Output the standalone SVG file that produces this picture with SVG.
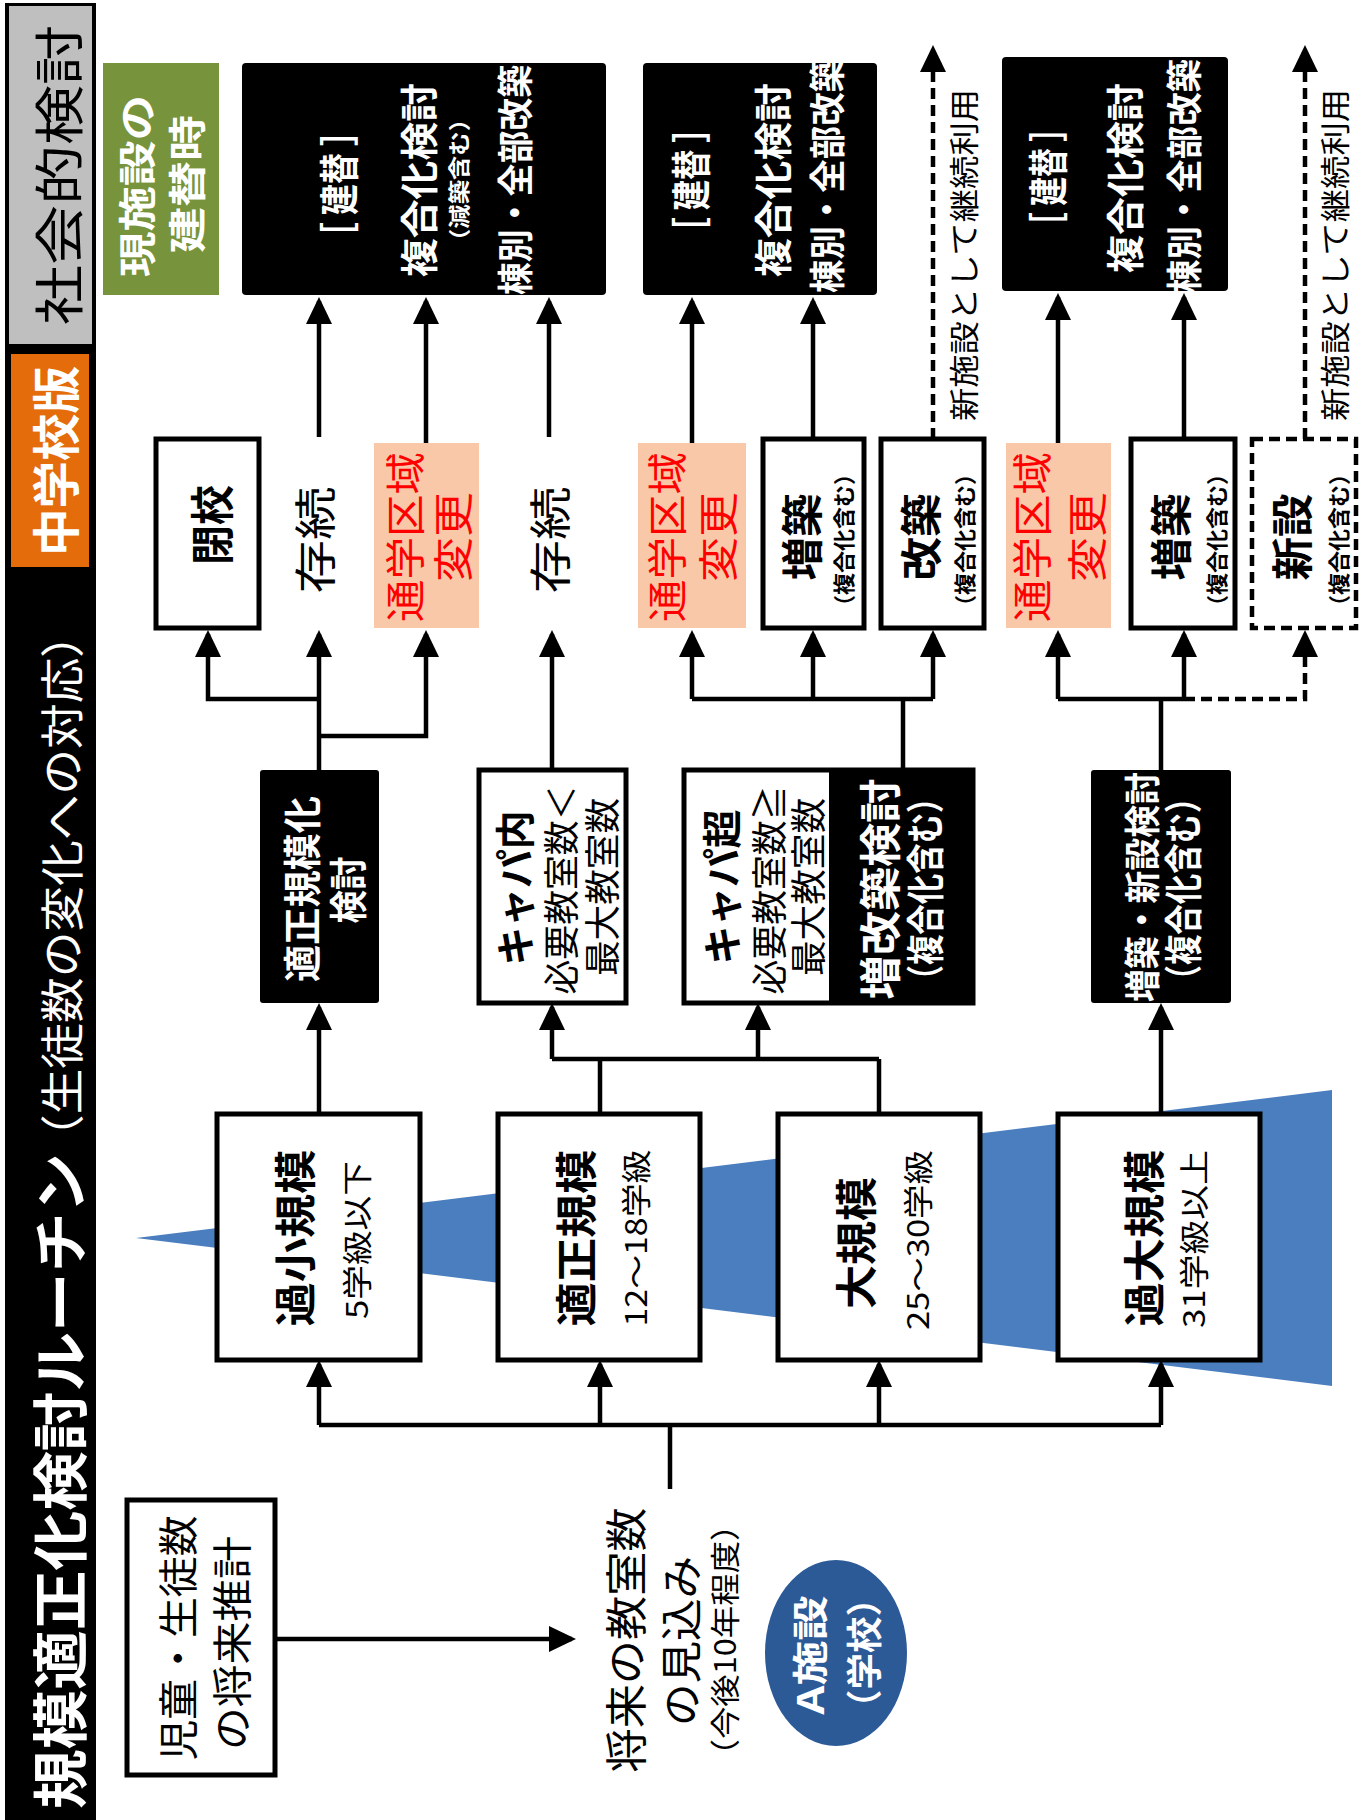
<svg xmlns="http://www.w3.org/2000/svg" width="1366" height="1820" viewBox="0 0 1366 1820">
<defs>
<style>
text{font-family:"Noto Sans CJK JP","Noto Sans CJK SC",sans-serif;dominant-baseline:central;text-anchor:middle;fill:#000}
.b{font-weight:700}
.w{fill:#fff}
.r{fill:#ff0000}
.box{fill:#fff;stroke:#000;stroke-width:5}
.dbox{fill:#fff;stroke:#000;stroke-width:4.5;stroke-dasharray:11 6}
.blk{fill:#000}
.org{fill:#f8c8a8}
.ln{fill:none;stroke:#000;stroke-width:4.5}
.dl{fill:none;stroke:#000;stroke-width:4.5;stroke-dasharray:11 6}
</style>
<marker id="ah" markerUnits="userSpaceOnUse" markerWidth="28" markerHeight="26" refX="23" refY="13" orient="auto"><path d="M0,0 L27,13 L0,26 z" fill="#000"/></marker>
</defs>
<rect width="1366" height="1820" fill="#fff"/>

<g id="title">
<rect x="5" y="3" width="91" height="1817" fill="#000"/>
<rect x="9" y="6" width="83" height="338" fill="#bfbfbf"/>
<text x="56" y="175" font-size="50" textLength="300" lengthAdjust="spacingAndGlyphs" transform="rotate(-90 56 175)">社会的検討</text>
<rect x="11" y="354" width="78" height="213" fill="#e46c0a"/>
<text class="b w" x="53" y="461" font-size="48" textLength="190" lengthAdjust="spacingAndGlyphs" transform="rotate(-90 53 461)">中学校版</text>
<text class="b w" x="56" y="1481" font-size="56" textLength="656" lengthAdjust="spacingAndGlyphs" transform="rotate(-90 56 1481)">規模適正化検討ルーチン</text>
<text class="w" x="60" y="886" font-size="44" textLength="548" lengthAdjust="spacingAndGlyphs" transform="rotate(-90 60 886)">（生徒数の変化への対応）</text>
</g>

<g id="triangle">
<polygon points="136,1238 1332,1090 1332,1386" fill="#4a7ebf"/>
</g>

<g id="rebuild-time">
<rect x="103" y="63" width="116" height="232" fill="#77933c"/>
<text class="b w" x="134" y="186" font-size="38" textLength="182" lengthAdjust="spacingAndGlyphs" transform="rotate(-90 134 186)">現施設の</text>
<text class="b w" x="184" y="184" font-size="38" textLength="138" lengthAdjust="spacingAndGlyphs" transform="rotate(-90 184 184)">建替時</text>
</g>

<g id="rebuild-1">
<rect class="blk" x="242" y="63" width="364" height="232" rx="4"/>
<text class="b w" x="337" y="184" font-size="40" textLength="138" lengthAdjust="spacingAndGlyphs" transform="rotate(-90 337 184)">［ 建替 ］</text>
<text class="b w" x="416" y="180" font-size="38" textLength="194" lengthAdjust="spacingAndGlyphs" transform="rotate(-90 416 180)">複合化検討</text>
<text class="b w" x="457" y="180" font-size="22" textLength="146" lengthAdjust="spacingAndGlyphs" transform="rotate(-90 457 180)">（減築含む）</text>
<text class="b w" x="513" y="180" font-size="36" textLength="230" lengthAdjust="spacingAndGlyphs" transform="rotate(-90 513 180)">棟別・全部改築</text>
</g>

<g id="rebuild-2">
<rect class="blk" x="643" y="63" width="234" height="232" rx="4"/>
<text class="b w" x="689" y="180" font-size="40" textLength="135" lengthAdjust="spacingAndGlyphs" transform="rotate(-90 689 180)">［ 建替 ］</text>
<text class="b w" x="770" y="180" font-size="38" textLength="194" lengthAdjust="spacingAndGlyphs" transform="rotate(-90 770 180)">複合化検討</text>
<text class="b w" x="825" y="176" font-size="36" textLength="234" lengthAdjust="spacingAndGlyphs" transform="rotate(-90 825 176)">棟別・全部改築</text>
</g>

<g id="rebuild-3">
<rect class="blk" x="1002" y="57" width="226" height="234" rx="4"/>
<text class="b w" x="1046" y="177" font-size="40" textLength="128" lengthAdjust="spacingAndGlyphs" transform="rotate(-90 1046 177)">［ 建替 ］</text>
<text class="b w" x="1122" y="178" font-size="38" textLength="190" lengthAdjust="spacingAndGlyphs" transform="rotate(-90 1122 178)">複合化検討</text>
<text class="b w" x="1182" y="176" font-size="36" textLength="234" lengthAdjust="spacingAndGlyphs" transform="rotate(-90 1182 176)">棟別・全部改築</text>
</g>

<g id="close">
<rect class="box" x="156" y="439" width="103" height="189"/>
<text class="b" x="210" y="525" font-size="44" textLength="80" lengthAdjust="spacingAndGlyphs" transform="rotate(-90 210 525)">閉校</text>
</g>
<g id="keep-1">
<text x="312" y="540" font-size="42" textLength="107" lengthAdjust="spacingAndGlyphs" transform="rotate(-90 312 540)">存続</text>
</g>
<g id="district-1">
<rect class="org" x="374" y="443" width="105" height="185"/>
<text class="r" x="403" y="537" font-size="40" textLength="170" lengthAdjust="spacingAndGlyphs" transform="rotate(-90 403 537)">通学区域</text>
<text class="r" x="451" y="537" font-size="40" textLength="90" lengthAdjust="spacingAndGlyphs" transform="rotate(-90 451 537)">変更</text>
</g>
<g id="keep-2">
<text x="547" y="540" font-size="42" textLength="107" lengthAdjust="spacingAndGlyphs" transform="rotate(-90 547 540)">存続</text>
</g>
<g id="district-2">
<rect class="org" x="638" y="443" width="108" height="185"/>
<text class="r" x="665" y="537" font-size="40" textLength="170" lengthAdjust="spacingAndGlyphs" transform="rotate(-90 665 537)">通学区域</text>
<text class="r" x="716" y="537" font-size="40" textLength="90" lengthAdjust="spacingAndGlyphs" transform="rotate(-90 716 537)">変更</text>
</g>
<g id="extend-1">
<rect class="box" x="763" y="439" width="101" height="189"/>
<text class="b" x="799" y="537" font-size="42" textLength="87" lengthAdjust="spacingAndGlyphs" transform="rotate(-90 799 537)">増築</text>
<text class="b" x="842" y="540" font-size="22" textLength="154" lengthAdjust="spacingAndGlyphs" transform="rotate(-90 842 540)">（複合化含む）</text>
</g>
<g id="renovate">
<rect class="box" x="881" y="439" width="103" height="189"/>
<text class="b" x="918" y="537" font-size="42" textLength="87" lengthAdjust="spacingAndGlyphs" transform="rotate(-90 918 537)">改築</text>
<text class="b" x="963" y="540" font-size="22" textLength="154" lengthAdjust="spacingAndGlyphs" transform="rotate(-90 963 540)">（複合化含む）</text>
</g>
<g id="district-3">
<rect class="org" x="1006" y="443" width="105" height="185"/>
<text class="r" x="1030" y="537" font-size="40" textLength="170" lengthAdjust="spacingAndGlyphs" transform="rotate(-90 1030 537)">通学区域</text>
<text class="r" x="1085" y="537" font-size="40" textLength="90" lengthAdjust="spacingAndGlyphs" transform="rotate(-90 1085 537)">変更</text>
</g>
<g id="extend-2">
<rect class="box" x="1131" y="439" width="104" height="189"/>
<text class="b" x="1168" y="537" font-size="42" textLength="87" lengthAdjust="spacingAndGlyphs" transform="rotate(-90 1168 537)">増築</text>
<text class="b" x="1215" y="540" font-size="22" textLength="154" lengthAdjust="spacingAndGlyphs" transform="rotate(-90 1215 540)">（複合化含む）</text>
</g>
<g id="new">
<rect class="dbox" x="1252" y="439" width="104" height="189"/>
<text class="b" x="1289" y="537" font-size="42" textLength="87" lengthAdjust="spacingAndGlyphs" transform="rotate(-90 1289 537)">新設</text>
<text class="b" x="1337" y="540" font-size="22" textLength="154" lengthAdjust="spacingAndGlyphs" transform="rotate(-90 1337 540)">（複合化含む）</text>
</g>

<g id="optimize">
<rect class="blk" x="260" y="770" width="119" height="233" rx="3"/>
<text class="b w" x="299" y="889" font-size="38" textLength="186" lengthAdjust="spacingAndGlyphs" transform="rotate(-90 299 889)">適正規模化</text>
<text class="b w" x="345" y="890" font-size="38" textLength="67" lengthAdjust="spacingAndGlyphs" transform="rotate(-90 345 890)">検討</text>
</g>
<g id="cap-in">
<rect class="box" x="479" y="770" width="147" height="233"/>
<text class="b" x="513" y="888" font-size="40" textLength="155" lengthAdjust="spacingAndGlyphs" transform="rotate(-90 513 888)">キャパ内</text>
<text x="559" y="890" font-size="36" textLength="209" lengthAdjust="spacingAndGlyphs" transform="rotate(-90 559 890)">必要教室数＜</text>
<text x="600" y="887" font-size="36" textLength="178" lengthAdjust="spacingAndGlyphs" transform="rotate(-90 600 887)">最大教室数</text>
</g>
<g id="cap-over">
<rect class="blk" x="829" y="770" width="144" height="233"/>
<rect class="box" x="684" y="770" width="289" height="233" style="fill:none"/>
<text class="b" x="720" y="887" font-size="40" textLength="155" lengthAdjust="spacingAndGlyphs" transform="rotate(-90 720 887)">キャパ超</text>
<text x="767" y="890" font-size="36" textLength="209" lengthAdjust="spacingAndGlyphs" transform="rotate(-90 767 890)">必要教室数≧</text>
<text x="806" y="887" font-size="36" textLength="178" lengthAdjust="spacingAndGlyphs" transform="rotate(-90 806 887)">最大教室数</text>
<text class="b w" x="877" y="889" font-size="42" textLength="221" lengthAdjust="spacingAndGlyphs" transform="rotate(-90 877 889)">増改築検討</text>
<text class="b w" x="922" y="889" font-size="38" textLength="213" lengthAdjust="spacingAndGlyphs" transform="rotate(-90 922 889)">（複合化含む）</text>
</g>
<g id="extend-new">
<rect class="blk" x="1091" y="770" width="140" height="233" rx="3"/>
<text class="b w" x="1140" y="887" font-size="36" textLength="230" lengthAdjust="spacingAndGlyphs" transform="rotate(-90 1140 887)">増築・新設検討</text>
<text class="b w" x="1180" y="889" font-size="38" textLength="213" lengthAdjust="spacingAndGlyphs" transform="rotate(-90 1180 889)">（複合化含む）</text>
</g>

<g id="too-small">
<rect class="box" x="217" y="1114" width="203" height="246"/>
<text class="b" x="292" y="1238" font-size="42" textLength="177" lengthAdjust="spacingAndGlyphs" transform="rotate(-90 292 1238)">過小規模</text>
<text x="355" y="1240" font-size="30" textLength="158" lengthAdjust="spacingAndGlyphs" transform="rotate(-90 355 1240)">5学級以下</text>
</g>
<g id="proper">
<rect class="box" x="498" y="1114" width="202" height="246"/>
<text class="b" x="573" y="1238" font-size="42" textLength="177" lengthAdjust="spacingAndGlyphs" transform="rotate(-90 573 1238)">適正規模</text>
<text x="634" y="1238" font-size="30" textLength="177" lengthAdjust="spacingAndGlyphs" transform="rotate(-90 634 1238)">12～18学級</text>
</g>
<g id="large">
<rect class="box" x="778" y="1114" width="202" height="246"/>
<text class="b" x="853" y="1243" font-size="42" textLength="132" lengthAdjust="spacingAndGlyphs" transform="rotate(-90 853 1243)">大規模</text>
<text x="916" y="1240" font-size="30" textLength="180" lengthAdjust="spacingAndGlyphs" transform="rotate(-90 916 1240)">25～30学級</text>
</g>
<g id="too-large">
<rect class="box" x="1058" y="1114" width="202" height="246"/>
<text class="b" x="1141" y="1238" font-size="42" textLength="177" lengthAdjust="spacingAndGlyphs" transform="rotate(-90 1141 1238)">過大規模</text>
<text x="1192" y="1239" font-size="30" textLength="178" lengthAdjust="spacingAndGlyphs" transform="rotate(-90 1192 1239)">31学級以上</text>
</g>

<g id="projection">
<rect class="box" x="127" y="1500" width="148" height="275"/>
<text x="176" y="1638" font-size="40" textLength="245" lengthAdjust="spacingAndGlyphs" transform="rotate(-90 176 1638)">児童・生徒数</text>
<text x="230" y="1643" font-size="40" textLength="214" lengthAdjust="spacingAndGlyphs" transform="rotate(-90 230 1643)">の将来推計</text>
</g>
<g id="forecast">
<text x="623" y="1640" font-size="42" textLength="265" lengthAdjust="spacingAndGlyphs" transform="rotate(-90 623 1640)">将来の教室数</text>
<text x="678" y="1641" font-size="42" textLength="170" lengthAdjust="spacingAndGlyphs" transform="rotate(-90 678 1641)">の見込み</text>
<text x="723" y="1640" font-size="30" textLength="263" lengthAdjust="spacingAndGlyphs" transform="rotate(-90 723 1640)">（今後10年程度）</text>
</g>
<g id="facility">
<ellipse cx="836" cy="1653" rx="71" ry="93" fill="#2c5a97"/>
<text class="b w" x="808" y="1655" font-size="36" textLength="119" lengthAdjust="spacingAndGlyphs" transform="rotate(-90 808 1655)">A施設</text>
<text class="b w" x="862" y="1653" font-size="36" textLength="146" lengthAdjust="spacingAndGlyphs" transform="rotate(-90 862 1653)">（学校）</text>
</g>

<g id="connectors">
<path class="ln" d="M275,1639 H572" marker-end="url(#ah)"/>
<path class="ln" d="M670,1489 V1425"/>
<path class="ln" d="M319,1425 H1161"/>
<path class="ln" d="M319,1425 V1364" marker-end="url(#ah)"/>
<path class="ln" d="M600,1425 V1364" marker-end="url(#ah)"/>
<path class="ln" d="M879,1425 V1364" marker-end="url(#ah)"/>
<path class="ln" d="M1161,1425 V1364" marker-end="url(#ah)"/>

<path class="ln" d="M319,1114 V1007" marker-end="url(#ah)"/>
<path class="ln" d="M600,1114 V1059 M879,1114 V1059 M552,1059 H879"/>
<path class="ln" d="M552,1059 V1007" marker-end="url(#ah)"/>
<path class="ln" d="M758,1059 V1007" marker-end="url(#ah)"/>
<path class="ln" d="M1161,1114 V1007" marker-end="url(#ah)"/>

<path class="ln" d="M319,770 V634" marker-end="url(#ah)"/>
<path class="ln" d="M319,699 H208 V634" marker-end="url(#ah)"/>
<path class="ln" d="M319,736 H426 V634" marker-end="url(#ah)"/>
<path class="ln" d="M552,770 V634" marker-end="url(#ah)"/>
<path class="ln" d="M903,770 V699 M692,699 H933"/>
<path class="ln" d="M692,699 V634" marker-end="url(#ah)"/>
<path class="ln" d="M813,699 V634" marker-end="url(#ah)"/>
<path class="ln" d="M933,699 V634" marker-end="url(#ah)"/>
<path class="ln" d="M1161,770 V699 M1058,699 H1184"/>
<path class="ln" d="M1058,699 V634" marker-end="url(#ah)"/>
<path class="ln" d="M1184,699 V634" marker-end="url(#ah)"/>
<path class="dl" d="M1184,699 H1305 V634" marker-end="url(#ah)"/>

<path class="ln" d="M319,437 V301" marker-end="url(#ah)"/>
<path class="ln" d="M426,443 V301" marker-end="url(#ah)"/>
<path class="ln" d="M549,437 V301" marker-end="url(#ah)"/>
<path class="ln" d="M692,443 V301" marker-end="url(#ah)"/>
<path class="ln" d="M813,439 V301" marker-end="url(#ah)"/>
<path class="ln" d="M1058,443 V297" marker-end="url(#ah)"/>
<path class="ln" d="M1184,439 V297" marker-end="url(#ah)"/>
<path class="dl" d="M933,439 V49" marker-end="url(#ah)"/>
<path class="dl" d="M1305,439 V49" marker-end="url(#ah)"/>
<text x="962" y="255" font-size="30" textLength="332" lengthAdjust="spacingAndGlyphs" transform="rotate(-90 962 255)">新施設として継続利用</text>
<text x="1333" y="255" font-size="30" textLength="332" lengthAdjust="spacingAndGlyphs" transform="rotate(-90 1333 255)">新施設として継続利用</text>
</g>
</svg>
